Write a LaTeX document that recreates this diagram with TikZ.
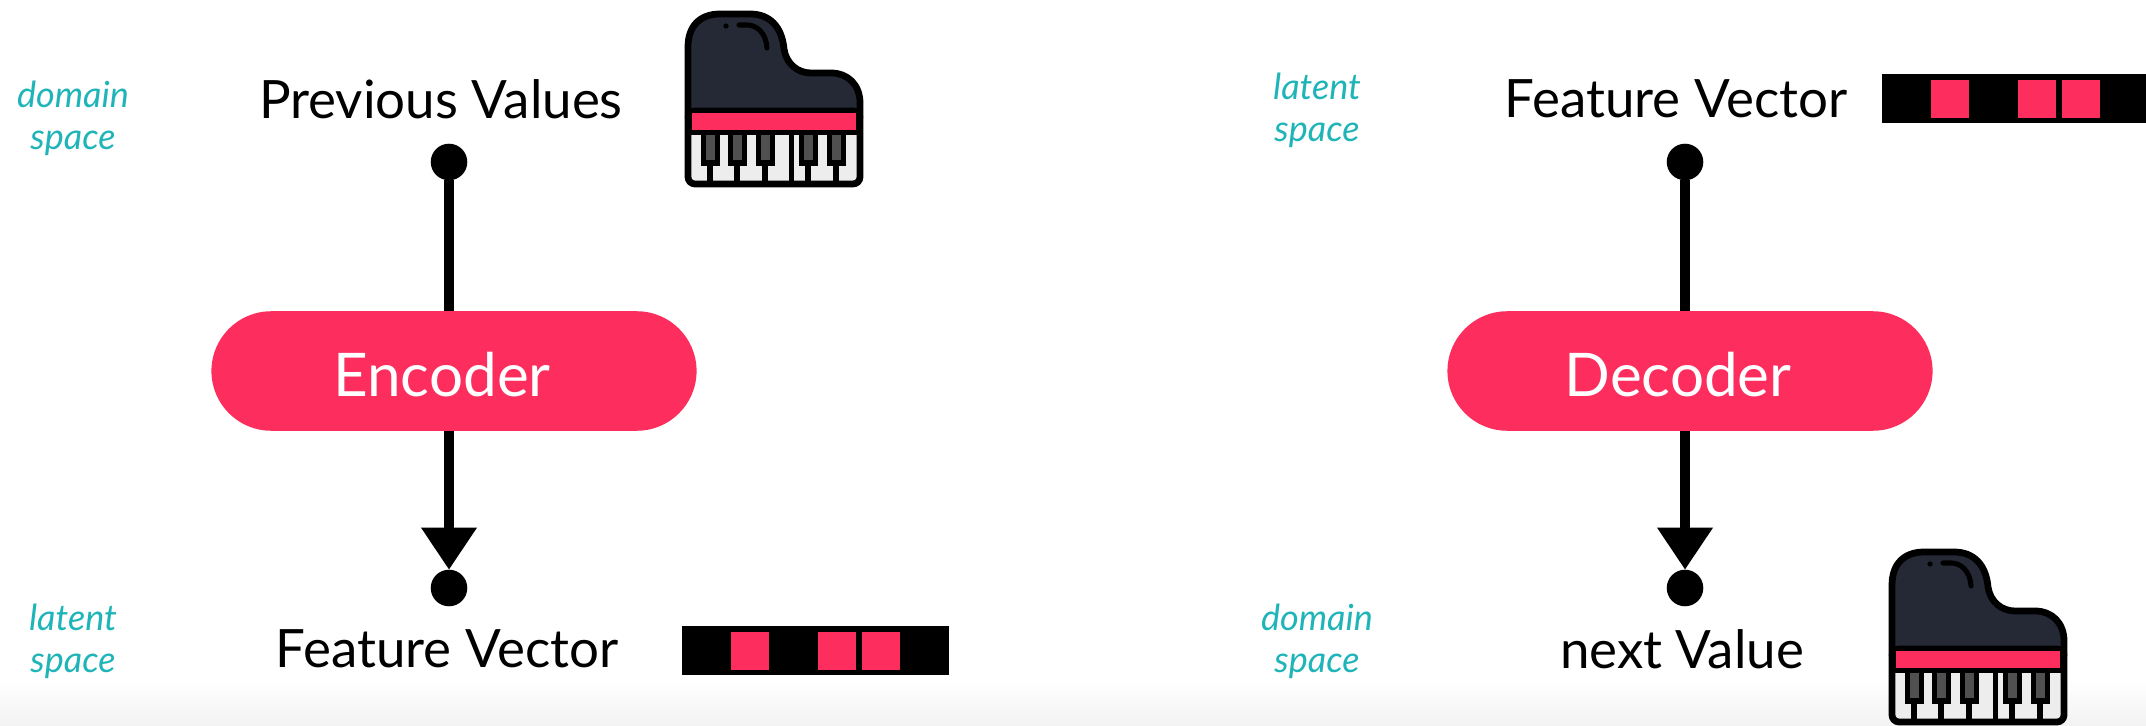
\documentclass[tikz,border=0pt]{standalone}
\usepackage{fontspec}
\setmainfont{Lato}
\usetikzlibrary{arrows.meta,shapes.misc}
\definecolor{pillred}{HTML}{FD2D5E}
\definecolor{lidblack}{HTML}{252936}
\definecolor{keygray}{HTML}{505050}
\definecolor{keywhite}{HTML}{EDEDED}
\definecolor{spaceteal}{HTML}{1FB4B8}
\tikzset{
  dotnode/.style={circle,fill=black,minimum size=13pt,inner sep=0pt,outer sep=0pt},
  pillnode/.style={rounded rectangle,fill=pillred,minimum width=172.5pt,minimum height=42.5pt,inner sep=0pt,outer sep=0pt},
  pilltext/.style={text=white,font=\fontsize{21.4}{23}\selectfont},
  labeltext/.style={text=black,font=\fontsize{18.8}{21}\selectfont},
  spacetext/.style={text=spaceteal,align=center,font=\fontsize{12.8}{15}\selectfont\itshape},
  flowline/.style={line width=3.4pt},
  flowarrow/.style={flowline,-{Triangle[width=19pt,length=15pt]}},
  piano/.pic={
    \filldraw[fill=lidblack,line width=2.4pt,line join=round] (3,106) -- (3,36) .. controls (3,15) and (15,3) .. (35,3)
      -- (65,3) .. controls (85,3) and (97,16) .. (99,38) .. controls (101,52) and (112,62) .. (126,62)
      -- (146,62) .. controls (163,62) and (175,74) .. (175,92) -- (175,106) -- cycle;
    \filldraw[fill=keywhite,line width=2.4pt,line join=round,rounded corners=2.5pt] (3,100) rectangle (175,173);
    \fill[black] (3,98) rectangle (175,124);
    \fill[pillred] (7,102) rectangle (171,119);
    \foreach \keyx in {25,52,80,123,151}{
      \fill[black] (\keyx-9.5,124) rectangle (\keyx+9.5,155);
      \fill[black] (\keyx-3,155) rectangle (\keyx+3,171);
      \fill[keygray] (\keyx-4.5,124) rectangle (\keyx+4.5,149);
    }
    \fill[black] (104,124) rectangle (109,171);
    \fill[black] (41,15) circle (2.6);
    \draw[line width=1.8pt,line cap=round] (54,14) -- (62,14) .. controls (72,14) and (81,22) .. (82,37);
  },
  latentbar/.pic={
    \fill[black] (0,0) rectangle (267,49);
    \foreach \cellx in {49,136,180}{
      \fill[pillred] (\cellx,6) rectangle (\cellx+38,44);
    }
  }
}
\begin{document}
\begin{tikzpicture}[x=0.0125cm,y=-0.0125cm]
\useasboundingbox (0,0) rectangle (2146,726);
\shade[top color=white,bottom color=black!5] (0,680) rectangle (2146,726);
% encoder side
\node[spacetext] (domainleft) at (73,118) {domain\\space};
\node[labeltext] (prevvalues) at (441,99) {Previous Values};
\node[dotnode] (prevdot) at (449,162) {};
\node[pillnode] (encoder) at (454,371) {};
\node[pilltext] (encodertext) at (442,375) {Encoder};
\node[dotnode] (featdot) at (449,588) {};
\draw[flowline] (prevdot) -- (encoder.north -| prevdot);
\draw[flowarrow] (encoder.south -| featdot) -- (featdot);
\node[spacetext] (latentleft) at (73,641) {latent\\space};
\node[labeltext] (featleft) at (447,649) {Feature Vector};
\pic at (685,11) {piano};
\pic at (682,626) {latentbar};
% decoder side
\node[spacetext] (latentright) at (1317,110) {latent\\space};
\node[labeltext] (featright) at (1676,99) {Feature Vector};
\node[dotnode] (feattop) at (1685,162) {};
\node[pillnode] (decoder) at (1690,371) {};
\node[pilltext] (decodertext) at (1678,375) {Decoder};
\node[dotnode] (nextdot) at (1685,588) {};
\draw[flowline] (feattop) -- (decoder.north -| feattop);
\draw[flowarrow] (decoder.south -| nextdot) -- (nextdot);
\node[spacetext] (domainright) at (1317,641) {domain\\space};
\node[labeltext] (nextvalue) at (1682,649) {next Value};
\pic at (1882,74) {latentbar};
\pic at (1889,549) {piano};
\end{tikzpicture}
\end{document}
